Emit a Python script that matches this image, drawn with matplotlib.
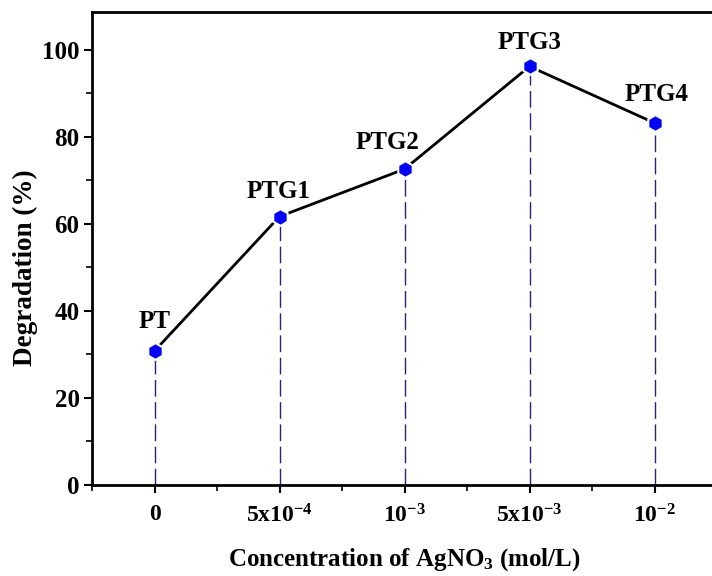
import matplotlib
matplotlib.use('Agg')
import matplotlib.pyplot as plt
from matplotlib.ticker import MultipleLocator, FixedLocator

plt.rcParams['font.family'] = 'Liberation Serif'
plt.rcParams['font.weight'] = 'bold'
plt.rcParams['mathtext.fontset'] = 'custom'
plt.rcParams['mathtext.rm'] = 'Liberation Serif:bold'
plt.rcParams['mathtext.bf'] = 'Liberation Serif:bold'
plt.rcParams['mathtext.default'] = 'rm'

# samples and their degradation
samples = ['PT', 'PTG1', 'PTG2', 'PTG3', 'PTG4']
conc_labels = ['0', r'$5x10^{-4}$', r'$10^{-3}$', r'$5x10^{-3}$', r'$10^{-2}$']
degradation = [30.8, 61.7, 72.6, 96.2, 83.2]

# label offsets (pixels) above each point
label_dx = [0, -1, -17, 0, 2]
label_dy = [29, 25, 27, 24, 28]

fig = plt.figure(figsize=(7.12, 5.76), dpi=100)
ax = fig.add_axes([92/712, 91/576, 625/712, 473/576])

x = list(range(len(samples)))

# dashed drop lines to the axis
for xi, yi in zip(x, degradation):
    ax.plot([xi, xi], [0, yi], color='#23237a', linestyle=(0, (12, 4)), linewidth=1.0, zorder=1)

ax.plot(x, degradation, color='black', linewidth=2.0, zorder=2)
ax.plot(x, degradation, linestyle='none', marker='h', markersize=12,
        markerfacecolor='#0000ff', markeredgecolor='white', markeredgewidth=1.5, zorder=3)

for xi, yi, name, dx, dy in zip(x, degradation, samples, label_dx, label_dy):
    ax.annotate(name, (xi, yi), xytext=(dx, dy), textcoords='offset pixels',
                ha='center', va='center', fontsize=18, fontweight='bold')

ax.set_xlim(-0.5, 4.5)
ax.set_ylim(0, 108.7)
ax.set_xticks(x)
ax.set_xticklabels(conc_labels)
ax.xaxis.set_minor_locator(FixedLocator([-0.5, 0.5, 1.5, 2.5, 3.5, 4.5]))
ax.yaxis.set_major_locator(MultipleLocator(20))
ax.yaxis.set_minor_locator(MultipleLocator(10))

ax.tick_params(which='major', direction='out', length=6, width=1.5, labelsize=18, pad=3)
ax.tick_params(which='minor', direction='out', length=4, width=1.2)
ax.tick_params(axis='x', which='major', labelsize=17, pad=8)
for s in ax.spines.values():
    s.set_linewidth(2.0)

ax.set_xlabel('Concentration of AgNO$_3$ (mol/L)', fontsize=18, fontweight='bold', labelpad=13)
ax.set_ylabel('Degradation (%)', fontsize=19.5, fontweight='bold')
ax.yaxis.set_label_coords(-0.086, 0.459)

fig.savefig('out.png', dpi=100)
